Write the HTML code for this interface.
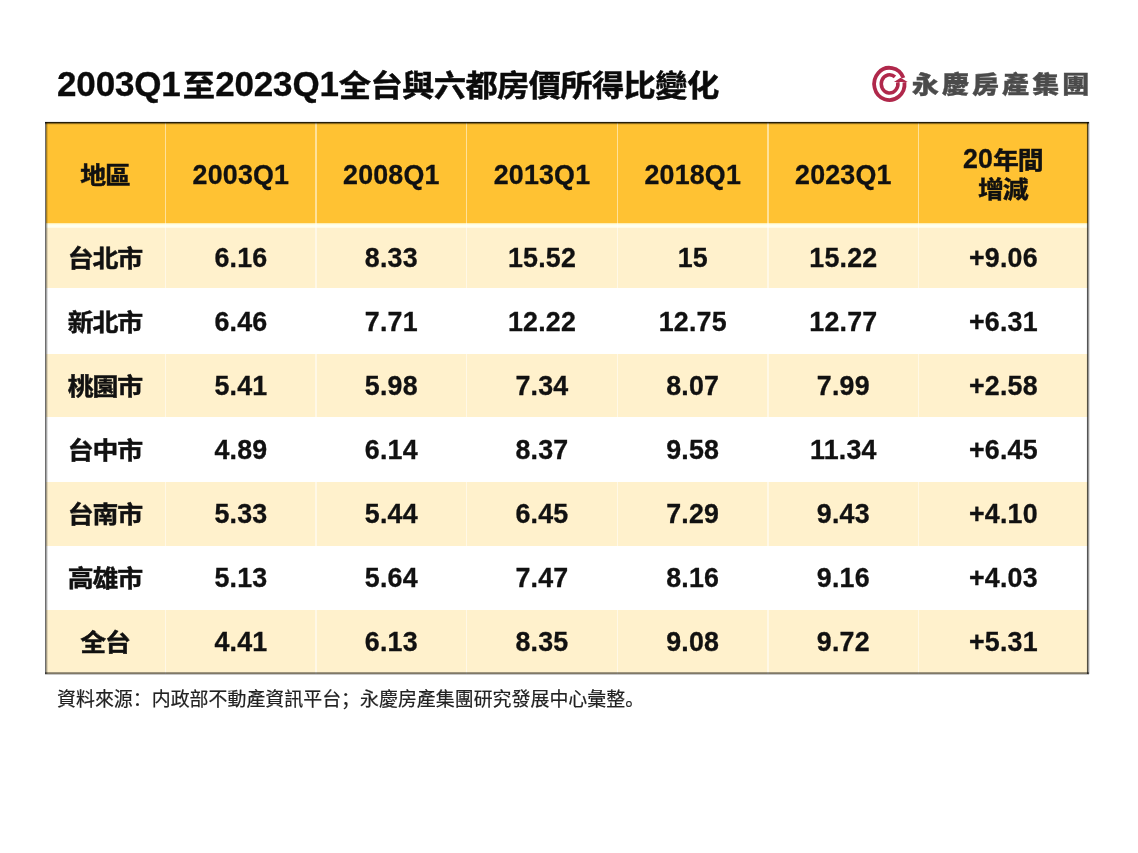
<!DOCTYPE html>
<html lang="zh-Hant">
<head>
<meta charset="utf-8">
<title>2003Q1至2023Q1全台與六都房價所得比變化</title>
<style>
*{box-sizing:border-box;margin:0;padding:0}
html,body{width:1138px;height:853px;background:#fff;overflow:hidden}
body{position:relative;font-family:"Liberation Sans","Noto Sans CJK SC",sans-serif;font-feature-settings:"locl" 0;color:#0d0d0d}
.abs,.bg,.vl{position:absolute}

/* title */
.title{position:absolute;left:57px;top:62px;height:44px;line-height:44px;font-size:31.7px;font-weight:700;white-space:nowrap;color:#0b0b0b}
.title .l{font-size:35px;letter-spacing:-0.15px;-webkit-text-stroke:0.3px #0b0b0b}
.c{display:inline-block;font-size:25.9px;letter-spacing:-1.2px;margin-right:1.2px;transform:translateY(0.9px) scaleY(0.917);-webkit-text-stroke:0.5px currentColor}
.title .c{font-size:32.3px;letter-spacing:-0.65px;margin-right:0.65px;transform:translateY(0.8px) scaleY(0.92)}
.title .c:nth-of-type(2){margin-left:2.2px}

/* brand */
.icon{position:absolute;left:866px;top:60px;width:48px;height:48px}
.logo{position:absolute;left:911.8px;top:66.7px;height:36px;line-height:36px;font-family:"Liberation Sans","Noto Sans CJK TC",sans-serif;font-weight:900;font-size:27px;color:#4b4b4b;white-space:nowrap;letter-spacing:3.1px;transform-origin:0 50%;transform:scale(1,0.885);-webkit-text-stroke:0.4px #4b4b4b}

/* table */
.deco{position:absolute;left:0;top:0;width:1138px;height:853px}
.hd{background:#ffc233}
.odd{background:#fff1cc}
.vl{width:1.5px;top:122px;height:551.5px;background:rgba(255,255,255,.5)}
table.tbl{display:block;position:absolute;left:0;top:0;width:1138px;height:853px;border:0;border-spacing:0}
.tbl thead,.tbl tbody,.tbl tr{display:block}
.tbl th,.tbl td{position:absolute;display:flex;align-items:center;justify-content:center;text-align:center;font-weight:700;font-size:24.7px;line-height:1;white-space:nowrap;color:#111}
.tbl .l{font-size:26.8px;letter-spacing:0.2px;margin-right:-0.2px;-webkit-text-stroke:0.3px currentColor}
.tbl th>*,.tbl td>*{position:relative;top:1px}
.tbl thead .c{transform:translateY(1.7px) scaleY(0.917)}
.h2{line-height:28.8px;margin-top:-1px}
.h2 .l{line-height:1}

/* footnote */
.foot{position:absolute;left:57px;top:686.9px;font-size:18.94px;line-height:26px;color:#222;white-space:nowrap;-webkit-text-stroke:0.2px #222}
</style>
</head>
<body>
<h1 class="title"><span class="l">2003Q1</span><span class="c">至</span><span class="l">2023Q1</span><span class="c">全台與六都房價所得比變化</span></h1>
<div class="brand">
<svg class="icon" viewBox="866 60 48 48" aria-hidden="true">
<g fill="none" stroke="#b0284b" stroke-linecap="butt">
<path stroke-width="3.8" d="M904.47 82.22 A15.2 16.1 0 1 1 903.44 77.87"/>
<path stroke-width="3.5" d="M897.82 82.30 A8.35 9.2 0 1 1 894.97 76.85"/>
</g>
<path d="M893.9 82.1 L900.6 77.7 L907.7 82.1 Z" fill="#b0284b"/>
</svg>
<div class="logo">永慶房產集團</div>
</div>
<div class="deco" aria-hidden="true">
<div class="bg hd" style="left:45.5px;top:122px;width:1042.8px;height:100.6px"></div>
<div class="bg odd" style="left:45.5px;top:227.5px;width:1042.8px;height:60.8px"></div>
<div class="bg odd" style="left:45.5px;top:354px;width:1042.8px;height:63px"></div>
<div class="bg odd" style="left:45.5px;top:482.2px;width:1042.8px;height:63.4px"></div>
<div class="bg odd" style="left:45.5px;top:610px;width:1042.8px;height:63.6px"></div>
<div class="bg" style="left:45.5px;top:223px;width:1042.8px;height:1px;background:#fff0b8"></div>
<div class="bg" style="left:45.5px;top:224px;width:1042.8px;height:1px;background:#fffde0"></div>
<div class="bg" style="left:45.5px;top:225px;width:1042.8px;height:1px;background:#fffff0"></div>
<div class="bg" style="left:45.5px;top:226px;width:1042.8px;height:1px;background:#fffff0"></div>
<div class="bg" style="left:45.5px;top:227px;width:1042.8px;height:1px;background:#fffbe8"></div>
<div class="vl" style="left:164.75px"></div>
<div class="vl" style="left:315.35px"></div>
<div class="vl" style="left:465.65px"></div>
<div class="vl" style="left:616.65px"></div>
<div class="vl" style="left:767.15px"></div>
<div class="vl" style="left:917.85px"></div>
</div>
<table class="tbl">
<thead><tr>
<th scope="col" style="left:45.5px;top:122px;width:120px;height:103.85px"><span><span class="c">地區</span></span></th>
<th scope="col" style="left:165.5px;top:122px;width:150.6px;height:103.85px"><span><span class="l">2003Q1</span></span></th>
<th scope="col" style="left:316.1px;top:122px;width:150.3px;height:103.85px"><span><span class="l">2008Q1</span></span></th>
<th scope="col" style="left:466.4px;top:122px;width:151px;height:103.85px"><span><span class="l">2013Q1</span></span></th>
<th scope="col" style="left:617.4px;top:122px;width:150.5px;height:103.85px"><span><span class="l">2018Q1</span></span></th>
<th scope="col" style="left:767.9px;top:122px;width:150.7px;height:103.85px"><span><span class="l">2023Q1</span></span></th>
<th scope="col" style="left:918.6px;top:122px;width:169.4px;height:103.85px"><div class="h2"><span class="l">20</span><span class="c">年間</span><br><span class="c">增減</span></div></th>
</tr></thead>
<tbody>
<tr>
<th scope="row" style="left:45.5px;top:225.85px;width:120px;height:63.95px"><span><span class="c">台北市</span></span></th>
<td style="left:165.5px;top:225.85px;width:150.6px;height:63.95px"><span><span class="l">6.16</span></span></td>
<td style="left:316.1px;top:225.85px;width:150.3px;height:63.95px"><span><span class="l">8.33</span></span></td>
<td style="left:466.4px;top:225.85px;width:151px;height:63.95px"><span><span class="l">15.52</span></span></td>
<td style="left:617.4px;top:225.85px;width:150.5px;height:63.95px"><span><span class="l">15</span></span></td>
<td style="left:767.9px;top:225.85px;width:150.7px;height:63.95px"><span><span class="l">15.22</span></span></td>
<td style="left:918.6px;top:225.85px;width:169.4px;height:63.95px"><span><span class="l">+9.06</span></span></td>
</tr>
<tr>
<th scope="row" style="left:45.5px;top:289.8px;width:120px;height:63.95px"><span><span class="c">新北市</span></span></th>
<td style="left:165.5px;top:289.8px;width:150.6px;height:63.95px"><span><span class="l">6.46</span></span></td>
<td style="left:316.1px;top:289.8px;width:150.3px;height:63.95px"><span><span class="l">7.71</span></span></td>
<td style="left:466.4px;top:289.8px;width:151px;height:63.95px"><span><span class="l">12.22</span></span></td>
<td style="left:617.4px;top:289.8px;width:150.5px;height:63.95px"><span><span class="l">12.75</span></span></td>
<td style="left:767.9px;top:289.8px;width:150.7px;height:63.95px"><span><span class="l">12.77</span></span></td>
<td style="left:918.6px;top:289.8px;width:169.4px;height:63.95px"><span><span class="l">+6.31</span></span></td>
</tr>
<tr>
<th scope="row" style="left:45.5px;top:353.75px;width:120px;height:63.95px"><span><span class="c">桃園市</span></span></th>
<td style="left:165.5px;top:353.75px;width:150.6px;height:63.95px"><span><span class="l">5.41</span></span></td>
<td style="left:316.1px;top:353.75px;width:150.3px;height:63.95px"><span><span class="l">5.98</span></span></td>
<td style="left:466.4px;top:353.75px;width:151px;height:63.95px"><span><span class="l">7.34</span></span></td>
<td style="left:617.4px;top:353.75px;width:150.5px;height:63.95px"><span><span class="l">8.07</span></span></td>
<td style="left:767.9px;top:353.75px;width:150.7px;height:63.95px"><span><span class="l">7.99</span></span></td>
<td style="left:918.6px;top:353.75px;width:169.4px;height:63.95px"><span><span class="l">+2.58</span></span></td>
</tr>
<tr>
<th scope="row" style="left:45.5px;top:417.7px;width:120px;height:63.95px"><span><span class="c">台中市</span></span></th>
<td style="left:165.5px;top:417.7px;width:150.6px;height:63.95px"><span><span class="l">4.89</span></span></td>
<td style="left:316.1px;top:417.7px;width:150.3px;height:63.95px"><span><span class="l">6.14</span></span></td>
<td style="left:466.4px;top:417.7px;width:151px;height:63.95px"><span><span class="l">8.37</span></span></td>
<td style="left:617.4px;top:417.7px;width:150.5px;height:63.95px"><span><span class="l">9.58</span></span></td>
<td style="left:767.9px;top:417.7px;width:150.7px;height:63.95px"><span><span class="l">11.34</span></span></td>
<td style="left:918.6px;top:417.7px;width:169.4px;height:63.95px"><span><span class="l">+6.45</span></span></td>
</tr>
<tr>
<th scope="row" style="left:45.5px;top:481.65px;width:120px;height:63.95px"><span><span class="c">台南市</span></span></th>
<td style="left:165.5px;top:481.65px;width:150.6px;height:63.95px"><span><span class="l">5.33</span></span></td>
<td style="left:316.1px;top:481.65px;width:150.3px;height:63.95px"><span><span class="l">5.44</span></span></td>
<td style="left:466.4px;top:481.65px;width:151px;height:63.95px"><span><span class="l">6.45</span></span></td>
<td style="left:617.4px;top:481.65px;width:150.5px;height:63.95px"><span><span class="l">7.29</span></span></td>
<td style="left:767.9px;top:481.65px;width:150.7px;height:63.95px"><span><span class="l">9.43</span></span></td>
<td style="left:918.6px;top:481.65px;width:169.4px;height:63.95px"><span><span class="l">+4.10</span></span></td>
</tr>
<tr>
<th scope="row" style="left:45.5px;top:545.6px;width:120px;height:63.95px"><span><span class="c">高雄市</span></span></th>
<td style="left:165.5px;top:545.6px;width:150.6px;height:63.95px"><span><span class="l">5.13</span></span></td>
<td style="left:316.1px;top:545.6px;width:150.3px;height:63.95px"><span><span class="l">5.64</span></span></td>
<td style="left:466.4px;top:545.6px;width:151px;height:63.95px"><span><span class="l">7.47</span></span></td>
<td style="left:617.4px;top:545.6px;width:150.5px;height:63.95px"><span><span class="l">8.16</span></span></td>
<td style="left:767.9px;top:545.6px;width:150.7px;height:63.95px"><span><span class="l">9.16</span></span></td>
<td style="left:918.6px;top:545.6px;width:169.4px;height:63.95px"><span><span class="l">+4.03</span></span></td>
</tr>
<tr>
<th scope="row" style="left:45.5px;top:609.55px;width:120px;height:63.95px"><span><span class="c">全台</span></span></th>
<td style="left:165.5px;top:609.55px;width:150.6px;height:63.95px"><span><span class="l">4.41</span></span></td>
<td style="left:316.1px;top:609.55px;width:150.3px;height:63.95px"><span><span class="l">6.13</span></span></td>
<td style="left:466.4px;top:609.55px;width:151px;height:63.95px"><span><span class="l">8.35</span></span></td>
<td style="left:617.4px;top:609.55px;width:150.5px;height:63.95px"><span><span class="l">9.08</span></span></td>
<td style="left:767.9px;top:609.55px;width:150.7px;height:63.95px"><span><span class="l">9.72</span></span></td>
<td style="left:918.6px;top:609.55px;width:169.4px;height:63.95px"><span><span class="l">+5.31</span></span></td>
</tr>
</tbody>
</table>
<div class="deco" aria-hidden="true">
<div class="abs" style="left:45px;top:122px;width:1px;height:552px;background:rgba(0,0,0,0.57)"></div>
<div class="abs" style="left:46px;top:122px;width:1px;height:552px;background:rgba(0,0,0,0.35)"></div>
<div class="abs" style="left:47px;top:122px;width:1px;height:552px;background:rgba(0,0,0,0.12)"></div>
<div class="abs" style="left:1086px;top:122px;width:1px;height:552px;background:rgba(0,0,0,0.04)"></div>
<div class="abs" style="left:1087px;top:122px;width:1px;height:552px;background:rgba(0,0,0,0.67)"></div>
<div class="abs" style="left:1088px;top:122px;width:1px;height:552px;background:rgba(0,0,0,0.41)"></div>
<div class="abs" style="left:1089px;top:122px;width:1px;height:552px;background:rgba(0,0,0,0.12)"></div>
<div class="abs" style="left:45px;top:121px;width:1044px;height:1px;background:rgba(0,0,0,0.08)"></div>
<div class="abs" style="left:45px;top:122px;width:1044px;height:1px;background:rgba(0,0,0,0.85)"></div>
<div class="abs" style="left:45px;top:123px;width:1044px;height:1px;background:rgba(0,0,0,0.45)"></div>
<div class="abs" style="left:45px;top:124px;width:1044px;height:1px;background:rgba(0,0,0,0.08)"></div>
<div class="abs" style="left:45px;top:672px;width:1044px;height:1px;background:rgba(0,0,0,0.38)"></div>
<div class="abs" style="left:45px;top:673px;width:1044px;height:1px;background:rgba(0,0,0,0.5)"></div>
<div class="abs" style="left:45px;top:674px;width:1044px;height:1px;background:rgba(0,0,0,0.22)"></div>
</div>
<p class="foot">資料來源：内政部不動產資訊平台；永慶房產集團研究發展中心彙整。</p>
</body>
</html>
